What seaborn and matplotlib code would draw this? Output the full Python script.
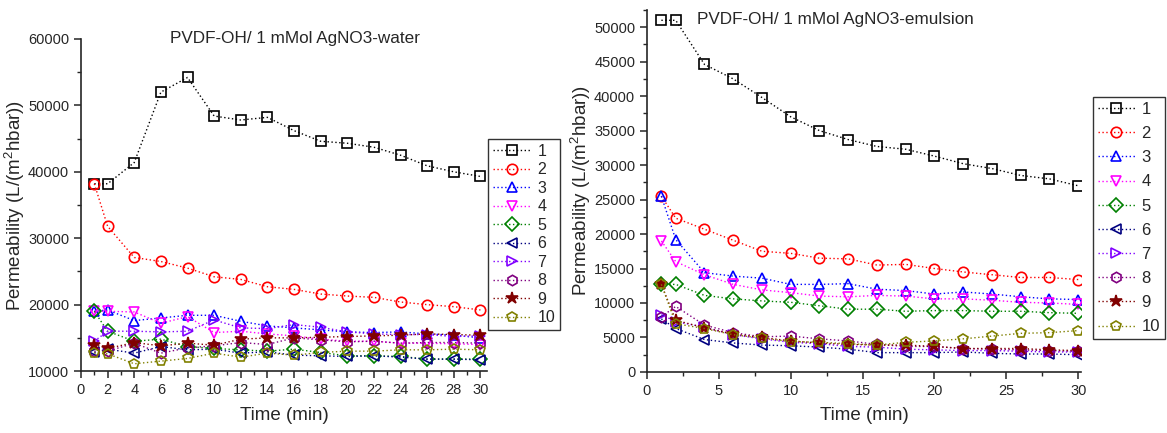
import matplotlib
matplotlib.use("Agg")
import matplotlib.pyplot as plt
from matplotlib.ticker import MultipleLocator
import seaborn as sns
import pandas as pd

# time points (min)
time_min = [1, 2, 4, 6, 8, 10, 12, 14, 16, 18, 20, 22, 24, 26, 28, 30]
series_labels = ["1", "2", "3", "4", "5", "6", "7", "8", "9", "10"]

# permeability, L/(m2 h bar) - water
water_1 = [38200, 38200, 41400, 52000, 54200, 48400, 47800, 48200, 46200, 44600, 44300, 43700, 42500, 40900, 40000, 39300]
water_2 = [38200, 31800, 27100, 26500, 25500, 24200, 23800, 22700, 22300, 21600, 21300, 21100, 20400, 20000, 19700, 19200]
water_3 = [19000, 19200, 17600, 18000, 18400, 18400, 17500, 16800, 16500, 16200, 15900, 15800, 15900, 15600, 15400, 15000]
water_4 = [19000, 19000, 18900, 17200, 18200, 15800, 16000, 15600, 15300, 14800, 14500, 14500, 14200, 14200, 14100, 14000]
water_5 = [19000, 16000, 14500, 14800, 13700, 13400, 13200, 13000, 13300, 12800, 12300, 12300, 12200, 11800, 11800, 11800]
water_6 = [12800, 13300, 12700, 13700, 13200, 13300, 12700, 12900, 12400, 12300, 12200, 12300, 12100, 11800, 11800, 11700]
water_7 = [14500, 16000, 16000, 15900, 16000, 17700, 16500, 16400, 17000, 16600, 15900, 15600, 15500, 15500, 15200, 15300]
water_8 = [13000, 13000, 14200, 12700, 13500, 13800, 14300, 14000, 15000, 14700, 14400, 14500, 14200, 14300, 14300, 14200]
water_9 = [14000, 13400, 14300, 13800, 14200, 13900, 14800, 15000, 15000, 15100, 15200, 15300, 15400, 15600, 15500, 15400]
water_10 = [12700, 12600, 11100, 11500, 11900, 12700, 12100, 12700, 12400, 12800, 13000, 13000, 13200, 13200, 13300, 13200]

# emulsion
emul_1 = [51000, 51000, 44600, 42500, 39800, 37000, 35000, 33700, 32700, 32300, 31300, 30200, 29500, 28500, 28000, 27000]
emul_2 = [25500, 22300, 20700, 19100, 17500, 17200, 16500, 16400, 15500, 15600, 15000, 14500, 14100, 13700, 13700, 13400]
emul_3 = [25500, 19200, 14400, 13900, 13600, 12700, 12700, 12800, 12000, 11800, 11300, 11600, 11300, 10900, 10600, 10500]
emul_4 = [19000, 16000, 14100, 12700, 11900, 11500, 11000, 10900, 11100, 11000, 10600, 10600, 10400, 10100, 10000, 9800]
emul_5 = [12700, 12700, 11100, 10600, 10300, 10100, 9600, 9100, 9100, 8800, 8900, 8900, 8800, 8800, 8600, 8500]
emul_6 = [7700, 6300, 4700, 4200, 3900, 3800, 3600, 3300, 2800, 2800, 2800, 2900, 2700, 2600, 2600, 2500]
emul_7 = [8300, 7300, 6500, 5400, 4800, 4300, 4100, 3700, 3600, 3300, 3200, 3100, 3100, 3000, 2900, 2900]
emul_8 = [8000, 9500, 6800, 5700, 5100, 5200, 4800, 4500, 4000, 3700, 3700, 3400, 3300, 3200, 3100, 3000]
emul_9 = [12700, 7500, 6400, 5500, 5000, 4500, 4200, 4000, 3900, 3900, 3700, 3400, 3400, 3400, 3200, 3100]
emul_10 = [12700, 7000, 6300, 5400, 4900, 4400, 4300, 4100, 3900, 4300, 4500, 4800, 5200, 5600, 5700, 6000]

water = [water_1, water_2, water_3, water_4, water_5, water_6, water_7, water_8, water_9, water_10]
emulsion = [emul_1, emul_2, emul_3, emul_4, emul_5, emul_6, emul_7, emul_8, emul_9, emul_10]

colors = ["black", "red", "blue", "magenta", "green", "navy", "#8000ff", "purple", "#800000", "olive"]
markers = ["s", "o", "^", "v", "D", "<", ">", "h", "*", "p"]

sns.set_style("ticks")
plt.rcParams["font.family"] = ["Liberation Sans", "DejaVu Sans"]
plt.rcParams["xtick.direction"] = "out"
plt.rcParams["ytick.direction"] = "out"
plt.rcParams["mathtext.fontset"] = "custom"
plt.rcParams["mathtext.rm"] = "Liberation Sans"

fig = plt.figure(figsize=(11.67, 4.33), dpi=100)
ax1 = fig.add_axes([0.0694, 0.143, 0.348, 0.767])
ax2 = fig.add_axes([0.5544, 0.141, 0.372, 0.836])


def draw(ax, data):
    for vals, lab, c, m in zip(data, series_labels, colors, markers):
        df = pd.DataFrame({"t": time_min, "p": vals})
        fill = c if m == "*" else "none"
        ms = 9 if m == "*" else 7.5
        sns.lineplot(data=df, x="t", y="p", ax=ax, color=c, marker=m, markersize=ms,
                     markerfacecolor=fill, markeredgecolor=c, markeredgewidth=1.2,
                     linestyle=(0, (1, 1.8)), linewidth=1, label=lab, estimator=None, sort=False)
    for s in ["top", "right"]:
        ax.spines[s].set_visible(False)
    ax.spines["left"].set_linewidth(1.2)
    ax.spines["bottom"].set_linewidth(1.2)
    ax.tick_params(which="major", length=5, width=1.1, labelsize=10.5)
    ax.tick_params(which="minor", length=3, width=1)
    ax.set_xlabel("Time (min)", fontsize=13.5, labelpad=7)
    ax.set_ylabel("Permeability (L/(m$^2$hbar))", fontsize=13.5, labelpad=1)


draw(ax1, water)
ax1.set_xlim(0, 30.5)
ax1.set_ylim(10000, 60000)
ax1.xaxis.set_major_locator(MultipleLocator(2))
ax1.xaxis.set_minor_locator(MultipleLocator(1))
ax1.yaxis.set_major_locator(MultipleLocator(10000))
ax1.yaxis.set_minor_locator(MultipleLocator(5000))
ax1.legend(loc="upper left", bbox_to_anchor=(0.418, 0.679), bbox_transform=fig.transFigure,
           frameon=True, fancybox=False, edgecolor="black", fontsize=11.5, labelspacing=0.22,
           handlelength=2.4, borderpad=0.3, handletextpad=0.4, borderaxespad=0)
ax1.get_legend().get_frame().set_linewidth(1)
fig.text(0.2528, 0.912, "PVDF-OH/ 1 mMol AgNO3-water", ha="center", va="center", fontsize=12.3)

draw(ax2, emulsion)
ax2.set_xlim(0, 30.2)
ax2.set_ylim(0, 52500)
ax2.xaxis.set_major_locator(MultipleLocator(5))
ax2.xaxis.set_minor_locator(MultipleLocator(2.5))
ax2.yaxis.set_major_locator(MultipleLocator(5000))
ax2.yaxis.set_minor_locator(MultipleLocator(2500))
ax2.legend(loc="upper left", bbox_to_anchor=(0.9366, 0.776), bbox_transform=fig.transFigure,
           frameon=True, fancybox=False, edgecolor="black", fontsize=12, labelspacing=0.55,
           handlelength=2.2, borderpad=0.3, handletextpad=0.4, borderaxespad=0)
ax2.get_legend().get_frame().set_linewidth(1)
fig.text(0.7155, 0.954, "PVDF-OH/ 1 mMol AgNO3-emulsion", ha="center", va="center", fontsize=12.3)

fig.savefig("out.png", dpi=100)
